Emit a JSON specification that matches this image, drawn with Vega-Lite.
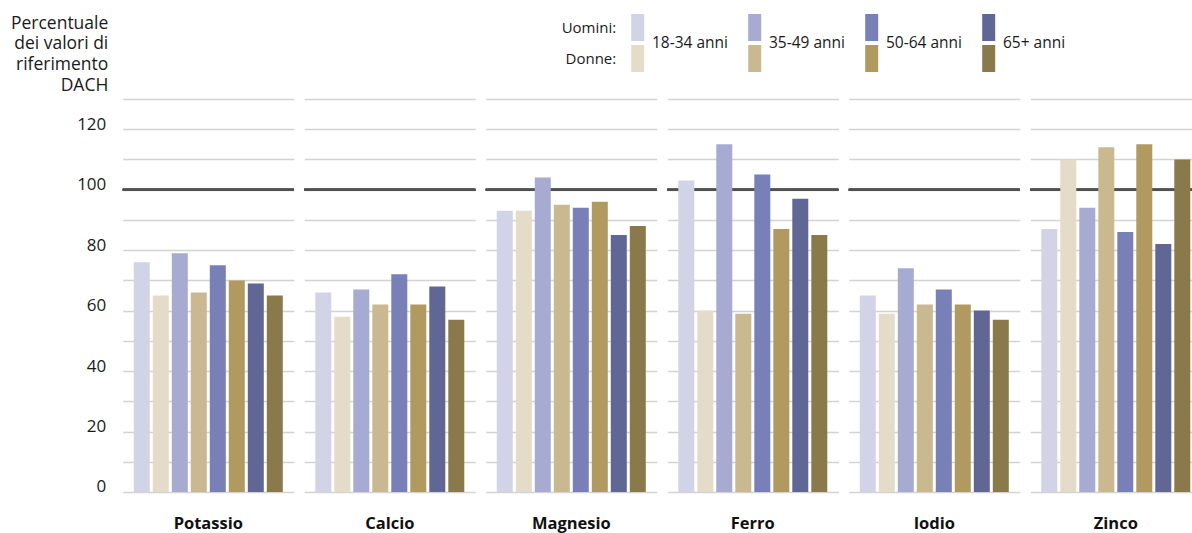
{
  "$schema": "https://vega.github.io/schema/vega-lite/v6.json",
  "padding": {"top": 14, "left": 9.8, "right": 0, "bottom": 0},
  "bounds": "flush",
  "spacing": 27,
  "config": {"font": "Open Sans", "view": {"stroke": null}},
  "datasets": {
    "legenda": [
      {"sesso": "Uomini:", "eta": "18-34 anni", "gruppo": "Uomini 18-34"},
      {"sesso": "Uomini:", "eta": "35-49 anni", "gruppo": "Uomini 35-49"},
      {"sesso": "Uomini:", "eta": "50-64 anni", "gruppo": "Uomini 50-64"},
      {"sesso": "Uomini:", "eta": "65+ anni", "gruppo": "Uomini 65+"},
      {"sesso": "Donne:", "eta": "18-34 anni", "gruppo": "Donne 18-34"},
      {"sesso": "Donne:", "eta": "35-49 anni", "gruppo": "Donne 35-49"},
      {"sesso": "Donne:", "eta": "50-64 anni", "gruppo": "Donne 50-64"},
      {"sesso": "Donne:", "eta": "65+ anni", "gruppo": "Donne 65+"}
    ],
    "valori": [
      {"minerale": "Potassio", "gruppo": "Uomini 18-34", "valore": 76},
      {"minerale": "Potassio", "gruppo": "Donne 18-34", "valore": 65},
      {"minerale": "Potassio", "gruppo": "Uomini 35-49", "valore": 79},
      {"minerale": "Potassio", "gruppo": "Donne 35-49", "valore": 66},
      {"minerale": "Potassio", "gruppo": "Uomini 50-64", "valore": 75},
      {"minerale": "Potassio", "gruppo": "Donne 50-64", "valore": 70},
      {"minerale": "Potassio", "gruppo": "Uomini 65+", "valore": 69},
      {"minerale": "Potassio", "gruppo": "Donne 65+", "valore": 65},
      {"minerale": "Calcio", "gruppo": "Uomini 18-34", "valore": 66},
      {"minerale": "Calcio", "gruppo": "Donne 18-34", "valore": 58},
      {"minerale": "Calcio", "gruppo": "Uomini 35-49", "valore": 67},
      {"minerale": "Calcio", "gruppo": "Donne 35-49", "valore": 62},
      {"minerale": "Calcio", "gruppo": "Uomini 50-64", "valore": 72},
      {"minerale": "Calcio", "gruppo": "Donne 50-64", "valore": 62},
      {"minerale": "Calcio", "gruppo": "Uomini 65+", "valore": 68},
      {"minerale": "Calcio", "gruppo": "Donne 65+", "valore": 57},
      {"minerale": "Magnesio", "gruppo": "Uomini 18-34", "valore": 93},
      {"minerale": "Magnesio", "gruppo": "Donne 18-34", "valore": 93},
      {"minerale": "Magnesio", "gruppo": "Uomini 35-49", "valore": 104},
      {"minerale": "Magnesio", "gruppo": "Donne 35-49", "valore": 95},
      {"minerale": "Magnesio", "gruppo": "Uomini 50-64", "valore": 94},
      {"minerale": "Magnesio", "gruppo": "Donne 50-64", "valore": 96},
      {"minerale": "Magnesio", "gruppo": "Uomini 65+", "valore": 85},
      {"minerale": "Magnesio", "gruppo": "Donne 65+", "valore": 88},
      {"minerale": "Ferro", "gruppo": "Uomini 18-34", "valore": 103},
      {"minerale": "Ferro", "gruppo": "Donne 18-34", "valore": 60},
      {"minerale": "Ferro", "gruppo": "Uomini 35-49", "valore": 115},
      {"minerale": "Ferro", "gruppo": "Donne 35-49", "valore": 59},
      {"minerale": "Ferro", "gruppo": "Uomini 50-64", "valore": 105},
      {"minerale": "Ferro", "gruppo": "Donne 50-64", "valore": 87},
      {"minerale": "Ferro", "gruppo": "Uomini 65+", "valore": 97},
      {"minerale": "Ferro", "gruppo": "Donne 65+", "valore": 85},
      {"minerale": "Iodio", "gruppo": "Uomini 18-34", "valore": 65},
      {"minerale": "Iodio", "gruppo": "Donne 18-34", "valore": 59},
      {"minerale": "Iodio", "gruppo": "Uomini 35-49", "valore": 74},
      {"minerale": "Iodio", "gruppo": "Donne 35-49", "valore": 62},
      {"minerale": "Iodio", "gruppo": "Uomini 50-64", "valore": 67},
      {"minerale": "Iodio", "gruppo": "Donne 50-64", "valore": 62},
      {"minerale": "Iodio", "gruppo": "Uomini 65+", "valore": 60},
      {"minerale": "Iodio", "gruppo": "Donne 65+", "valore": 57},
      {"minerale": "Zinco", "gruppo": "Uomini 18-34", "valore": 87},
      {"minerale": "Zinco", "gruppo": "Donne 18-34", "valore": 110},
      {"minerale": "Zinco", "gruppo": "Uomini 35-49", "valore": 94},
      {"minerale": "Zinco", "gruppo": "Donne 35-49", "valore": 114},
      {"minerale": "Zinco", "gruppo": "Uomini 50-64", "valore": 86},
      {"minerale": "Zinco", "gruppo": "Donne 50-64", "valore": 115},
      {"minerale": "Zinco", "gruppo": "Uomini 65+", "valore": 82},
      {"minerale": "Zinco", "gruppo": "Donne 65+", "valore": 110}
    ]
  },
  "vconcat": [
    {
      "data": {"name": "legenda"},
      "width": 924.4,
      "height": 58,
      "layer": [
        {
          "mark": {"type": "bar", "width": 13},
          "encoding": {
            "x": {"field": "eta", "type": "nominal", "axis": null,
                  "sort": ["18-34 anni", "35-49 anni", "50-64 anni", "65+ anni"],
                  "scale": {"paddingInner": 0, "paddingOuter": 0, "rangeMin": 456.4}},
            "y": {"field": "sesso", "type": "nominal", "axis": null,
                  "sort": ["Uomini:", "Donne:"],
                  "scale": {"paddingInner": 0.129, "paddingOuter": 0}},
            "color": {"field": "gruppo", "type": "nominal", "legend": null,
              "scale": {
                "domain": ["Uomini 18-34", "Uomini 35-49", "Uomini 50-64", "Uomini 65+", "Donne 18-34", "Donne 35-49", "Donne 50-64", "Donne 65+"],
                "range": ["#d2d3e7", "#a7aad1", "#7880b7", "#616795", "#e4dcc8", "#cab890", "#b09a60", "#8a7a4b"]
              }}
          }
        },
        {
          "transform": [{"filter": "datum.sesso === 'Uomini:'"}],
          "mark": {"type": "text", "align": "left", "baseline": "middle", "dx": 14.3, "fontSize": 15.5, "color": "#1a1a1a"},
          "encoding": {
            "x": {"field": "eta", "type": "nominal", "axis": null,
                  "sort": ["18-34 anni", "35-49 anni", "50-64 anni", "65+ anni"]},
            "text": {"field": "eta"}
          }
        },
        {
          "transform": [{"filter": "datum.eta === '18-34 anni'"}],
          "mark": {"type": "text", "align": "right", "baseline": "middle", "dx": -21.5, "fontSize": 15, "color": "#1a1a1a"},
          "encoding": {
            "x": {"field": "eta", "type": "nominal", "axis": null,
                  "sort": ["18-34 anni", "35-49 anni", "50-64 anni", "65+ anni"]},
            "y": {"field": "sesso", "type": "nominal", "axis": null, "sort": ["Uomini:", "Donne:"]},
            "text": {"field": "sesso"}
          }
        }
      ]
    },
    {
      "data": {"name": "valori"},
      "bounds": "flush",
      "facet": {
        "column": {
          "field": "minerale", "type": "nominal", "title": null,
          "sort": ["Potassio", "Calcio", "Magnesio", "Ferro", "Iodio", "Zinco"],
          "header": {"labelOrient": "bottom", "labelFontSize": 16.5, "labelFontWeight": "bold", "labelColor": "#111111", "labelPadding": 24, "labelFont": "Open Sans"}
        }
      },
      "spacing": {"column": 10.5},
      "spec": {
        "width": 171,
        "height": 393,
        "layer": [
          {
            "mark": {"type": "rule", "color": "#505050", "strokeWidth": 2},
            "encoding": {
              "y": {
                "datum": 100, "type": "quantitative",
                "scale": {"domain": [0, 130], "nice": false},
                "axis": {
                  "title": ["Percentuale", "dei valori di", "riferimento", "DACH"],
                  "titleAngle": 0, "titleAlign": "right", "titleBaseline": "alphabetic",
                  "titleX": -15, "titleY": -71, "titleFontSize": 17.5, "titleFontWeight": "normal",
                  "titleColor": "#1a1a1a", "titleLineHeight": 21,
                  "values": [0, 10, 20, 30, 40, 50, 60, 70, 80, 90, 100, 110, 120, 130],
                  "labelExpr": "datum.value % 20 === 0 && datum.value <= 120 ? datum.label : ''",
                  "labelFontSize": 17, "labelColor": "#1a1a1a", "labelPadding": 17, "labelBaseline": "alphabetic",
                  "ticks": false, "domain": false, "grid": true, "gridColor": "#d3d3d3", "gridWidth": 1.6
                }
              }
            }
          },
          {
            "mark": {"type": "bar"},
            "encoding": {
              "x": {
                "field": "gruppo", "type": "nominal", "axis": null,
                "sort": ["Uomini 18-34", "Donne 18-34", "Uomini 35-49", "Donne 35-49", "Uomini 50-64", "Donne 50-64", "Uomini 65+", "Donne 65+"],
                "scale": {"paddingInner": 0.158, "paddingOuter": 0.579}
              },
              "y": {
                "field": "valore", "type": "quantitative",
                "scale": {"domain": [0, 130], "nice": false},
                "axis": {
                  "title": ["Percentuale", "dei valori di", "riferimento", "DACH"],
                  "titleAngle": 0, "titleAlign": "right", "titleBaseline": "alphabetic",
                  "titleX": -15, "titleY": -71, "titleFontSize": 17.5, "titleFontWeight": "normal",
                  "titleColor": "#1a1a1a", "titleLineHeight": 21,
                  "values": [0, 10, 20, 30, 40, 50, 60, 70, 80, 90, 100, 110, 120, 130],
                  "labelExpr": "datum.value % 20 === 0 && datum.value <= 120 ? datum.label : ''",
                  "labelFontSize": 17, "labelColor": "#1a1a1a", "labelPadding": 17, "labelBaseline": "alphabetic",
                  "ticks": false, "domain": false, "grid": true, "gridColor": "#d3d3d3", "gridWidth": 1.6
                }
              },
              "color": {
                "field": "gruppo", "type": "nominal", "legend": null,
                "scale": {
                  "domain": ["Uomini 18-34", "Uomini 35-49", "Uomini 50-64", "Uomini 65+", "Donne 18-34", "Donne 35-49", "Donne 50-64", "Donne 65+"],
                  "range": ["#d2d3e7", "#a7aad1", "#7880b7", "#616795", "#e4dcc8", "#cab890", "#b09a60", "#8a7a4b"]
                }
              }
            }
          }
        ]
      }
    }
  ]
}
